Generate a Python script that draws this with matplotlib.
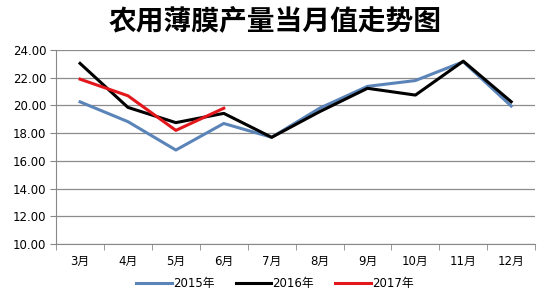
import matplotlib
import numpy as np
import matplotlib.pyplot as plt

matplotlib.use('Agg')

plt.rcParams['font.family'] = ['DejaVu Sans', 'Noto Sans CJK SC']

months = ['3月', '4月', '5月', '6月', '7月', '8月', '9月', '10月', '11月', '12月']
y2015 = [20.26, 18.83, 16.78, 18.70, 17.70, 19.80, 21.38, 21.80, 23.16, 19.96]
y2016 = [23.04, 19.86, 18.76, 19.43, 17.70, 19.55, 21.24, 20.75, 23.20, 20.27]
y2017 = [21.90, 20.70, 18.20, 19.80]

fig = plt.figure(figsize=(5.5, 3.0), dpi=100)
ax = fig.add_axes([0.102, 0.187, 0.871, 0.646])

x = np.arange(len(months))
ax.plot(x, y2015, color='#5b84b8', lw=2.2, label='2015年')
ax.plot(x, y2016, color='black', lw=2.2, label='2016年')
ax.plot(x[:len(y2017)], y2017, color='#e2171c', lw=2.2, label='2017年')

ax.set_xlim(-0.5, len(months) - 0.5)
ax.set_ylim(10, 24)
ax.set_yticks(np.arange(10, 24.1, 2))
ax.set_yticklabels([f'{v:.2f}' for v in np.arange(10, 24.1, 2)])
ax.set_xticks(x)
ax.set_xticklabels(months)
ax.set_xticks(np.arange(-0.5, len(months), 1), minor=True)
ax.tick_params(axis='x', which='major', length=0, pad=8, labelsize=8.5)
ax.tick_params(axis='x', which='minor', length=4, color='#888888', direction='out')
ax.tick_params(axis='y', length=4, color='#888888', labelsize=8.5, pad=3)

ax.grid(axis='y', color='#8c8c8c', lw=0.9)
ax.set_axisbelow(True)
for s in ['top', 'right']:
    ax.spines[s].set_visible(False)
for s in ['left', 'bottom']:
    ax.spines[s].set_color('#888888')

fig.text(0.5, 0.93, '农用薄膜产量当月值走势图', ha='center', va='center',
         fontsize=20, fontweight='bold', family='Noto Sans CJK SC')
fig.legend(loc='center', bbox_to_anchor=(0.5, 0.055), ncol=3, frameon=False,
           fontsize=8.5, handlelength=3.0, columnspacing=1.8, handletextpad=0.1)

fig.savefig('out.png', dpi=100)
